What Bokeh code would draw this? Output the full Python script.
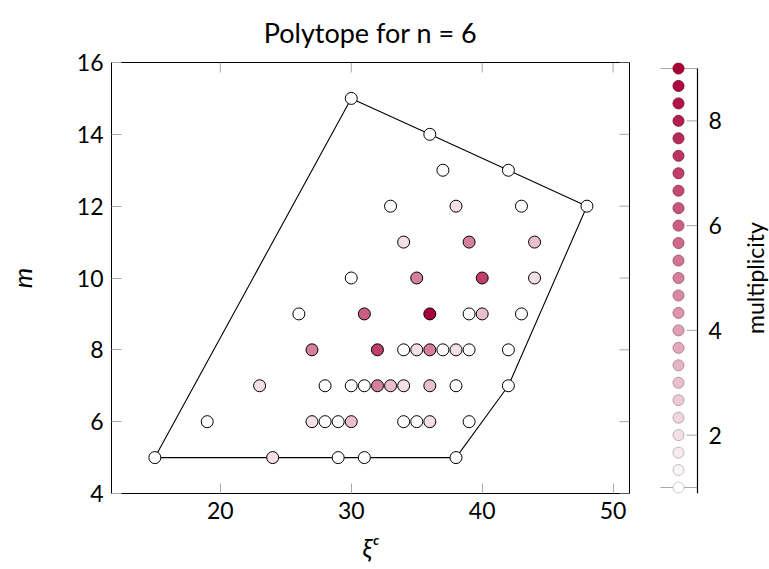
import numpy as np
from bokeh.plotting import figure
from bokeh.models import Title, FixedTicker, Range1d, LinearColorMapper, ColumnDataSource
from bokeh.core.properties import value
from bokeh.layouts import row
from bokeh.embed import file_html
from bokeh.resources import INLINE

# ---------------- data ----------------
title_text = "Polytope for n = 6"
x_label = "ξᶜ"
y_label = "m"
cbar_label = "multiplicity"

x_ticks = [20, 30, 40, 50]
y_ticks = [4, 6, 8, 10, 12, 14, 16]
cbar_ticks = [2, 4, 6, 8]

hull_x = [15, 30, 36, 42, 48, 42, 38, 15]
hull_y = [5, 15, 14, 13, 12, 7, 5, 5]

pt_x = [30,
        36,
        37, 42,
        33, 38, 43, 48,
        34, 39, 44,
        30, 35, 40, 44,
        26, 31, 36, 39, 40, 43,
        27, 32, 34, 35, 36, 37, 38, 39, 42,
        23, 28, 30, 31, 32, 33, 34, 36, 38, 42,
        19, 27, 28, 29, 30, 34, 35, 36, 39,
        15, 24, 29, 31, 38]
pt_y = [15,
        14,
        13, 13,
        12, 12, 12, 12,
        11, 11, 11,
        10, 10, 10, 10,
        9, 9, 9, 9, 9, 9,
        8, 8, 8, 8, 8, 8, 8, 8, 8,
        7, 7, 7, 7, 7, 7, 7, 7, 7, 7,
        6, 6, 6, 6, 6, 6, 6, 6, 6,
        5, 5, 5, 5, 5]
pt_mult = [1,
           1,
           1, 1,
           1, 2, 1, 1,
           2, 5, 3,
           1, 5, 7, 2,
           1, 6, 9, 1, 3, 1,
           5, 7, 1, 2, 5, 1, 2, 1, 1,
           2, 1, 1, 1, 5, 3, 2, 3, 1, 1,
           1, 2, 1, 1, 3, 1, 1, 2, 1,
           1, 2, 1, 1, 1]
mult_min, mult_max = 1, 9
cbar_samples = 25

# ---------------- styles ----------------
FONT = "Lato"
FS = "23px"
TICK_GRAY = "#a8a8a8"
TICK_LEN = 10
hi = (170, 0, 56)
palette = []
palette_dark = []
for t in np.linspace(0, 1, 256):
    c = [255 + (h - 255) * t for h in hi]
    palette.append("#%02x%02x%02x" % tuple(int(round(v)) for v in c))
    palette_dark.append("#%02x%02x%02x" % tuple(int(round(v * 0.78)) for v in c))

mapper = LinearColorMapper(palette=palette, low=mult_min, high=mult_max)
mapper_dark = LinearColorMapper(palette=palette_dark, low=mult_min, high=mult_max)

H = 565
FRAME_TOP = 61
FRAME_BOTTOM = 493
W1 = 656

# ---------------- main plot ----------------
p = figure(width=W1, height=H, x_range=Range1d(11.69, 51.25), y_range=Range1d(4, 16),
           output_backend="svg", toolbar_location=None,
           min_border_left=111, min_border_right=27, min_border_top=FRAME_TOP,
           min_border_bottom=H - FRAME_BOTTOM)
p.grid.visible = False
p.outline_line_color = "black"
p.outline_line_width = 1
p.outline_line_alpha = 1.0
p.background_fill_color = "white"
p.border_fill_color = "white"

p.add_layout(Title(text=title_text, align="center", vertical_align="bottom",
                   text_font=FONT, text_font_size="27px",
                   text_font_style="normal", text_color="black", standoff=27), "above")

for ax in p.axis:
    ax.axis_line_color = None
    ax.major_tick_in = TICK_LEN
    ax.major_tick_out = 0
    ax.major_tick_line_color = TICK_GRAY
    ax.minor_tick_line_color = None
    ax.major_label_text_font = FONT
    ax.major_label_text_font_size = FS
    ax.major_label_text_color = "black"
    ax.axis_label_text_font = FONT
    ax.axis_label_text_font_size = "26px"
    ax.axis_label_text_font_style = "italic"
    ax.axis_label_text_color = "black"
p.xaxis.ticker = FixedTicker(ticks=x_ticks)
p.yaxis.ticker = FixedTicker(ticks=y_ticks)
p.xaxis.major_label_standoff = 8
p.yaxis.major_label_standoff = 8
p.xaxis.axis_label = x_label
p.yaxis.axis_label = y_label
p.xaxis.axis_label_standoff = 9
p.yaxis.axis_label_standoff = 36

# inward ticks on top and right edges
p.ray(x=x_ticks, y=16, length=TICK_LEN, length_units="screen", angle=-np.pi / 2,
      line_color=TICK_GRAY, line_width=1)
p.ray(x=51.25, y=y_ticks, length=TICK_LEN, length_units="screen", angle=np.pi,
      line_color=TICK_GRAY, line_width=1)

p.line(hull_x, hull_y, line_color="black", line_width=1.1)
src = ColumnDataSource(dict(x=pt_x, y=pt_y, m=pt_mult))
p.scatter("x", "y", source=src, size=12, marker="circle",
          fill_color={"field": "m", "transform": mapper},
          line_color="black", line_width=1)

# ---------------- colorbar (frame = whole strip, x in page pixels) ----------------
W2 = 113
cb_scale = (FRAME_BOTTOM - FRAME_TOP - 12) / (mult_max - mult_min)
yb_lo = mult_min - 6 / cb_scale
yb_hi = mult_max + 6 / cb_scale
p2 = figure(width=W2, height=H, x_range=Range1d(W1, W1 + W2), y_range=Range1d(yb_lo, yb_hi),
            output_backend="svg", toolbar_location=None,
            x_axis_location=None, y_axis_location=None,
            min_border_left=0, min_border_right=0, min_border_top=FRAME_TOP,
            min_border_bottom=H - FRAME_BOTTOM)
p2.grid.visible = False
p2.outline_line_color = None
p2.background_fill_color = "white"
p2.border_fill_color = "white"

CB_X, CB_AX = 678, 697
cb_vals = np.linspace(mult_min, mult_max, cbar_samples)
p2.segment(x0=[660, 660], y0=[mult_min, mult_max], x1=[CB_AX, CB_AX], y1=[mult_min, mult_max],
           line_color=TICK_GRAY, line_width=1)
p2.ray(x=CB_AX, y=cbar_ticks, length=11, length_units="screen", angle=np.pi,
       line_color=TICK_GRAY, line_width=1)
p2.segment(x0=[CB_AX], y0=[yb_lo], x1=[CB_AX], y1=[mult_max],
           line_color="black", line_width=1.2)
cb_src = ColumnDataSource(dict(x=np.full(cbar_samples, CB_X), y=cb_vals, m=cb_vals))
p2.scatter("x", "y", source=cb_src, size=11, marker="circle",
           fill_color={"field": "m", "transform": mapper},
           line_color={"field": "m", "transform": mapper_dark}, line_width=1)
p2.text(x=[CB_AX + 11] * len(cbar_ticks), y=cbar_ticks, text=[str(t) for t in cbar_ticks],
        text_align="left", text_baseline="middle", text_font=value(FONT),
        text_font_size=FS, text_color="black")
p2.text(x=[754], y=[(mult_min + mult_max) / 2], text=[cbar_label], angle=np.pi / 2,
        text_align="center", text_baseline="middle", text_font=value(FONT),
        text_font_size=FS, text_color="black")

layout = row(p, p2, spacing=0)
open("out.html", "w").write(file_html(layout, INLINE))
